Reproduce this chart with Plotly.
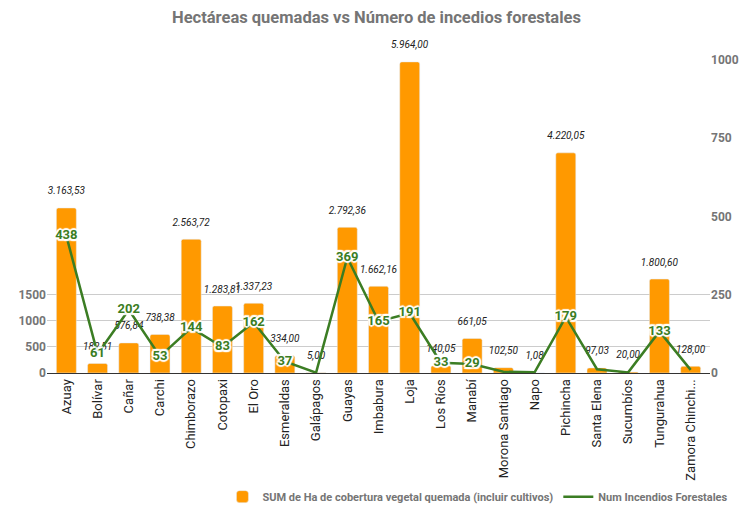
import plotly.graph_objects as go

provincias = ["Azuay", "Bolívar", "Cañar", "Carchi", "Chimborazo", "Cotopaxi", "El Oro",
              "Esmeraldas", "Galápagos", "Guayas", "Imbabura", "Loja", "Los Ríos", "Manabí",
              "Morona Santiago", "Napo", "Pichincha", "Santa Elena", "Sucumbíos", "Tungurahua",
              "Zamora Chinchi..."]
hectareas = [3163.53, 182.51, 576.84, 738.38, 2563.72, 1283.81, 1337.23, 334.00, 5.00,
             2792.36, 1662.16, 5964.00, 140.05, 661.05, 102.50, 1.08, 4220.05, 97.03,
             20.00, 1800.60, 128.00]
incendios = [438, 61, 202, 53, 144, 83, 162, 37, 1, 369, 165, 191, 33, 29, 4, 2, 179, 12, 2, 133, 10]
incendios_lbl = ["438", "61", "202", "53", "144", "83", "162", "37", "", "369", "165", "191",
                 "33", "29", "", "", "179", "", "", "133", ""]
left_ticks = [0, 500, 1000, 1500]
right_ticks = [0, 250, 500, 750, 1000]

GREEN = "#3b7d23"
ORANGE = "#ff9900"
FONT = "Roboto"
HALO = ("-1.5px -1.5px 1px #fff, 1.5px -1.5px 1px #fff, -1.5px 1.5px 1px #fff, 1.5px 1.5px 1px #fff, "
        "0px 2px 1px #fff, 0px -2px 1px #fff, 2px 0px 1px #fff, -2px 0px 1px #fff")

fig = go.Figure()
fig.add_trace(go.Bar(
    x=provincias, y=hectareas, name="SUM de Ha de cobertura vegetal quemada (incluir cultivos)",
    marker=dict(color=ORANGE, cornerradius=2), yaxis="y", width=0.64,
))
# bar value labels, lifted a little above the bars
fig.add_trace(go.Scatter(
    x=provincias, y=hectareas, mode="markers+text", showlegend=False, hoverinfo="skip",
    marker=dict(size=16, color="rgba(0,0,0,0)"), texttemplate="%{y:,.2f}",
    textposition="top center", cliponaxis=False,
    textfont=dict(family=FONT, size=10, color="#222", style="italic"), yaxis="y",
))
fig.add_trace(go.Scatter(
    x=provincias, y=incendios, name="Num Incendios Forestales", mode="lines+text",
    text=incendios_lbl, textposition="middle center",
    textfont=dict(family=FONT, size=13, color=GREEN, weight="bold", shadow=HALO),
    line=dict(color=GREEN, width=2.5), yaxis="y2", cliponaxis=False,
))

fig.update_layout(
    width=753, height=506,
    margin=dict(l=47, r=43, t=60, b=133, autoexpand=False),
    paper_bgcolor="white", plot_bgcolor="white",
    separators=",.",
    title=dict(text="<b>Hectáreas quemadas vs Número de incedios forestales</b>", x=0.5, xanchor="center",
               y=0.965, yanchor="middle", font=dict(family=FONT, size=16.5, color="#757575")),
    font=dict(family=FONT),
    bargap=0.36,
    showlegend=True,
    legend=dict(orientation="h", x=0.65, xanchor="center", y=-0.395, yanchor="middle",
                font=dict(family=FONT, size=11, color="#757575", weight="bold"),
                traceorder="normal", itemwidth=30),
    xaxis=dict(tickangle=-90, tickfont=dict(family=FONT, size=13, color="#222"), automargin=False,
               range=[-0.62, len(provincias) - 0.38], autorange=False,
               showline=True, linecolor="#333", linewidth=1, ticks="", showgrid=False),
    yaxis=dict(range=[0, 6000], autorange=False, tickvals=left_ticks, showgrid=True, gridcolor="#cccccc",
               tickfont=dict(family=FONT, size=12, color="#757575", weight="bold"),
               zeroline=False, ticks="", automargin=False),
    yaxis2=dict(range=[0, 1000], autorange=False, tickvals=right_ticks, overlaying="y", side="right",
                showgrid=False, zeroline=False, automargin=False,
                tickfont=dict(family=FONT, size=12, color="#757575", weight="bold")),
)

fig.write_html("out.html", config={"displayModeBar": False},
               post_script="document.body.style.margin='0';document.body.style.overflow='hidden';")
